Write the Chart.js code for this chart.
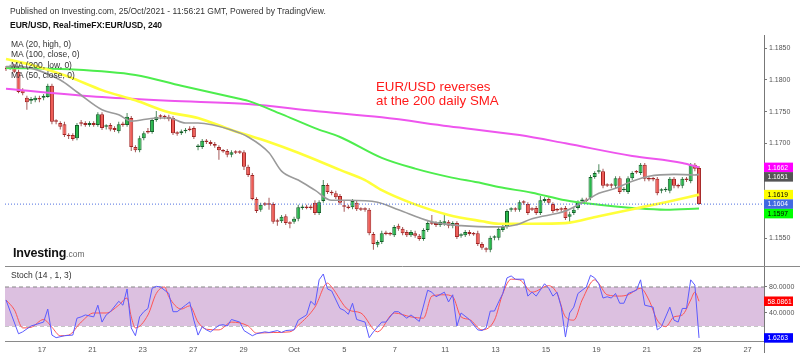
<!DOCTYPE html>
<html><head><meta charset="utf-8">
<script src="https://cdn.jsdelivr.net/npm/chart.js@4.4.0/dist/chart.umd.min.js"></script>
<style>
html,body{margin:0;padding:0;background:#fff;}
#wrap{position:relative;width:800px;height:357px;overflow:hidden;font-family:"Liberation Sans",Arial,sans-serif;}
canvas{position:absolute;left:0;}
#c1{top:0;} #c2{top:266px;}
.t{position:absolute;white-space:nowrap;color:#222;font-size:8.5px;line-height:10px;}
</style></head>
<body><div id="wrap">
<canvas id="c1" width="800" height="266"></canvas>
<canvas id="c2" width="800" height="91"></canvas>
<div class="t" style="left:10px;top:6px;color:#333">Published on Investing.com, 25/Oct/2021 - 11:56:21 GMT, Powered by TradingView.</div>
<div class="t" style="left:10px;top:20px;font-weight:bold;color:#111">EUR/USD, Real-timeFX:EUR/USD, 240</div>
<div class="t" style="left:11px;top:38.6px;line-height:10.6px;color:#333">MA (20, high, 0)<br>MA (100, close, 0)<br>MA (200, low, 0)<br>MA (50, close, 0)</div>
<div class="t" style="left:376px;top:80px;font-size:13.3px;line-height:14px;color:#ff1a1a">EUR/USD reverses<br>at the 200 daily SMA</div>
<div class="t" style="left:13px;top:246.5px;font-size:12.5px;line-height:13px;font-weight:bold;color:#111;letter-spacing:-0.2px">Investing<span style="font-weight:normal;font-size:8.5px;color:#666;letter-spacing:0">.com</span></div>
<div class="t" style="left:11px;top:270.3px;color:#333">Stoch (14 , 1, 3)</div>
</div>
<script>
// ---- 4H candles, EUR/USD ----
const opens = [
1.1819,1.1817,1.1822,1.1813,1.1784,1.1772,1.1767,1.1768,1.1770,1.1772,
1.1773,1.1791,1.1735,1.1732,1.1730,1.1712,1.1713,1.1708,1.1732,1.1732,
1.1729,1.1732,1.1729,1.1746,1.1726,1.1729,1.1724,1.1719,1.1730,1.1729,
1.1740,1.1694,1.1689,1.1708,1.1718,1.1718,1.1737,1.1743,1.1742,1.1742,
1.1740,1.1716,1.1716,1.1719,1.1722,1.1724,1.1694,1.1694,1.1704,1.1702,
1.1699,1.1694,1.1688,1.1688,1.1682,1.1686,1.1686,1.1686,1.1663,1.1650,
1.1612,1.1595,1.1604,1.1604,1.1604,1.1577,1.1577,1.1585,1.1574,1.1576,
1.1581,1.1598,1.1599,1.1599,1.1606,1.1590,1.1609,1.1634,1.1623,1.1621,
1.1617,1.1601,1.1599,1.1599,1.1606,1.1596,1.1596,1.1595,1.1557,1.1540,
1.1544,1.1558,1.1557,1.1555,1.1570,1.1565,1.1560,1.1555,1.1558,1.1554,
1.1549,1.1563,1.1574,1.1574,1.1571,1.1573,1.1576,1.1570,1.1574,1.1554,
1.1555,1.1560,1.1557,1.1558,1.1541,1.1533,1.1532,1.1551,1.1551,1.1563,
1.1568,1.1595,1.1596,1.1595,1.1607,1.1604,1.1596,1.1598,1.1590,1.1609,
1.1612,1.1604,1.1595,1.1596,1.1598,1.1584,1.1590,1.1598,1.1609,1.1610,
1.1614,1.1647,1.1655,1.1656,1.1634,1.1634,1.1633,1.1645,1.1626,1.1623,
1.1645,1.1655,1.1653,1.1666,1.1644,1.1644,1.1644,1.1625,1.1626,1.1625,
1.1644,1.1633,1.1633,1.1644,1.1640,1.1666,1.1661];
const highs = [
1.1822,1.1824,1.1825,1.1816,1.1787,1.1775,1.1773,1.1775,1.1775,1.1778,
1.1794,1.1794,1.1738,1.1735,1.1734,1.1716,1.1716,1.1732,1.1737,1.1735,
1.1735,1.1735,1.1749,1.1749,1.1730,1.1732,1.1727,1.1734,1.1734,1.1748,
1.1743,1.1697,1.1712,1.1719,1.1724,1.1740,1.1751,1.1746,1.1745,1.1745,
1.1743,1.1719,1.1722,1.1724,1.1727,1.1727,1.1699,1.1707,1.1707,1.1705,
1.1702,1.1697,1.1691,1.1691,1.1689,1.1689,1.1689,1.1689,1.1666,1.1653,
1.1615,1.1606,1.1607,1.1614,1.1607,1.1581,1.1587,1.1588,1.1577,1.1584,
1.1603,1.1603,1.1603,1.1603,1.1610,1.1610,1.1642,1.1637,1.1626,1.1625,
1.1620,1.1610,1.1603,1.1612,1.1609,1.1599,1.1599,1.1598,1.1560,1.1547,
1.1562,1.1562,1.1560,1.1571,1.1573,1.1568,1.1563,1.1563,1.1562,1.1557,
1.1566,1.1577,1.1587,1.1577,1.1579,1.1590,1.1579,1.1577,1.1577,1.1558,
1.1563,1.1563,1.1560,1.1562,1.1544,1.1536,1.1554,1.1555,1.1568,1.1571,
1.1596,1.1599,1.1599,1.1610,1.1610,1.1607,1.1599,1.1601,1.1617,1.1615,
1.1615,1.1607,1.1598,1.1599,1.1601,1.1592,1.1598,1.1610,1.1614,1.1614,
1.1650,1.1656,1.1667,1.1660,1.1637,1.1637,1.1648,1.1648,1.1631,1.1648,
1.1656,1.1658,1.1669,1.1669,1.1647,1.1647,1.1647,1.1629,1.1631,1.1647,
1.1647,1.1636,1.1647,1.1647,1.1669,1.1669,1.1664];
const lows = [
1.1814,1.1816,1.1811,1.1779,1.1776,1.1753,1.1762,1.1765,1.1765,1.1768,
1.1772,1.1730,1.1730,1.1722,1.1710,1.1707,1.1704,1.1705,1.1727,1.1726,
1.1726,1.1726,1.1726,1.1721,1.1722,1.1719,1.1718,1.1716,1.1726,1.1726,
1.1688,1.1686,1.1686,1.1705,1.1715,1.1715,1.1734,1.1738,1.1738,1.1735,
1.1713,1.1712,1.1713,1.1716,1.1719,1.1707,1.1689,1.1691,1.1699,1.1696,
1.1693,1.1674,1.1685,1.1678,1.1678,1.1683,1.1683,1.1658,1.1647,1.1610,
1.1590,1.1592,1.1601,1.1595,1.1573,1.1570,1.1574,1.1571,1.1566,1.1573,
1.1577,1.1595,1.1596,1.1595,1.1587,1.1587,1.1606,1.1620,1.1618,1.1612,
1.1603,1.1592,1.1596,1.1596,1.1593,1.1593,1.1592,1.1555,1.1532,1.1536,
1.1541,1.1555,1.1554,1.1552,1.1562,1.1555,1.1552,1.1552,1.1551,1.1546,
1.1546,1.1560,1.1571,1.1568,1.1568,1.1570,1.1566,1.1566,1.1549,1.1551,
1.1552,1.1554,1.1554,1.1538,1.1532,1.1528,1.1528,1.1547,1.1547,1.1560,
1.1565,1.1592,1.1592,1.1592,1.1603,1.1587,1.1593,1.1587,1.1587,1.1606,
1.1603,1.1590,1.1592,1.1592,1.1579,1.1573,1.1587,1.1595,1.1606,1.1607,
1.1610,1.1644,1.1652,1.1629,1.1631,1.1629,1.1629,1.1620,1.1623,1.1620,
1.1642,1.1652,1.1650,1.1640,1.1640,1.1640,1.1618,1.1621,1.1623,1.1621,
1.1629,1.1629,1.1629,1.1639,1.1637,1.1656,1.1603];
const closes = [
1.1817,1.1821,1.1813,1.1781,1.1779,1.1765,1.1770,1.1772,1.1769,1.1775,
1.1791,1.1734,1.1734,1.1726,1.1713,1.1711,1.1707,1.1729,1.1731,1.1729,
1.1732,1.1729,1.1746,1.1724,1.1727,1.1722,1.1721,1.1730,1.1729,1.1742,
1.1694,1.1689,1.1708,1.1716,1.1717,1.1737,1.1742,1.1742,1.1741,1.1738,
1.1716,1.1715,1.1719,1.1721,1.1721,1.1710,1.1696,1.1704,1.1702,1.1699,
1.1696,1.1689,1.1687,1.1682,1.1686,1.1685,1.1685,1.1663,1.1650,1.1612,
1.1593,1.1603,1.1603,1.1603,1.1576,1.1576,1.1584,1.1574,1.1573,1.1581,
1.1599,1.1599,1.1598,1.1598,1.1590,1.1607,1.1634,1.1623,1.1621,1.1615,
1.1606,1.1600,1.1598,1.1609,1.1596,1.1595,1.1595,1.1558,1.1541,1.1544,
1.1558,1.1557,1.1556,1.1568,1.1565,1.1558,1.1555,1.1560,1.1554,1.1549,
1.1563,1.1574,1.1573,1.1571,1.1576,1.1577,1.1570,1.1574,1.1552,1.1555,
1.1560,1.1557,1.1556,1.1541,1.1535,1.1532,1.1551,1.1552,1.1565,1.1568,
1.1593,1.1596,1.1595,1.1607,1.1606,1.1590,1.1595,1.1590,1.1610,1.1612,
1.1606,1.1593,1.1594,1.1595,1.1582,1.1588,1.1595,1.1607,1.1610,1.1609,
1.1647,1.1653,1.1656,1.1633,1.1633,1.1633,1.1645,1.1623,1.1628,1.1645,
1.1653,1.1654,1.1666,1.1644,1.1643,1.1643,1.1621,1.1626,1.1628,1.1644,
1.1633,1.1632,1.1644,1.1642,1.1666,1.1660,1.1604];

// ---- moving averages (candle index, value) ----
const ma20HighIdx = [0,3,13,17,23,27,30,36,39,43,46,54,58,63,66,70,74,78,82,89,94,102,109,118,122,126,134,139,142,146,150,154,160,165,166];
const ma20HighVal = [1.1821,1.1821,1.1800,1.1781,1.1753,1.1745,1.1735,1.1740,1.1740,1.1732,1.1732,1.1721,1.1710,1.1685,1.1656,1.1642,1.1626,1.1610,1.1610,1.1607,1.1595,1.1576,1.1570,1.1568,1.1571,1.1581,1.1593,1.1610,1.1621,1.1629,1.1640,1.1648,1.1651,1.1650,1.1651];
const ma100CloseIdx = [0,6,15,23,31,39,46,54,63,70,80,86,90,97,106,114,118,126,134,142,150,158,166];
const ma100CloseVal = [1.1833,1.1824,1.1805,1.1784,1.1768,1.1749,1.1740,1.1721,1.1702,1.1685,1.1658,1.1642,1.1626,1.1606,1.1587,1.1577,1.1573,1.1573,1.1574,1.1585,1.1596,1.1607,1.1619];
const ma200LowIdx = [0,15,31,42,54,58,66,74,80,90,98,106,114,118,126,134,142,150,158,166];
const ma200LowVal = [1.1819,1.1817,1.1808,1.1791,1.1773,1.1767,1.1746,1.1724,1.1710,1.1677,1.1660,1.1647,1.1637,1.1631,1.1622,1.1610,1.1603,1.1598,1.1595,1.1597];
const ma50CloseIdx = [0,23,39,58,74,90,106,123,134,150,162,166];
const ma50CloseVal = [1.1786,1.1773,1.1767,1.1762,1.1751,1.1741,1.1727,1.1713,1.1700,1.1680,1.1669,1.1662];

// ---- Stochastic (14,1,3) ----
const stochKIdx = [0,3,4,6,9,10,11,12,14,16,17,18,19,21,22,23,24,25,27,28,29,30,31,32,33,34,35,36,37,39,40,41,42,43,44,45,46,47,48,49,51,52,53,54,56,57,59,60,62,63,65,66,67,69,70,72,73,74,75,76,77,78,80,81,82,83,84,86,87,88,90,91,93,94,96,97,99,101,102,103,105,106,107,108,109,111,113,114,115,116,117,118,119,120,121,122,124,125,126,127,129,130,131,132,133,134,135,136,137,138,139,140,141,142,143,144,145,146,147,148,149,151,152,153,155,156,157,159,160,161,162,163,164,165,166];
const stochKVal = [60,8,11,20,26,46,6,2,5,6,32,34,37,34,52,26,37,42,58,52,77,17,5,34,42,47,78,81,80,70,42,42,47,52,57,29,6,19,14,11,21,22,20,30,26,13,5,8,11,10,13,10,13,14,29,37,58,52,91,100,77,74,47,44,38,55,30,26,2,11,26,26,42,42,32,37,27,75,72,65,72,57,68,20,40,30,14,13,17,43,43,57,70,94,97,92,92,66,72,66,85,78,66,72,49,3,40,49,70,75,80,98,94,85,63,65,63,70,55,55,70,75,91,52,49,14,19,49,29,26,47,47,91,83,1.6263];
const stochDIdx = [0,2,4,6,9,11,13,15,18,21,24,27,29,30,31,34,36,38,39,42,44,46,48,51,54,58,60,64,68,70,74,77,78,82,85,89,93,97,100,102,105,107,109,111,114,117,119,121,123,126,130,132,134,136,138,141,142,144,147,149,152,154,156,158,160,162,164,165,166];
const stochDVal = [60,45,17,18,30,18,5,6,26,40,40,52,63,34,17,37,70,80,65,46,51,26,15,14,26,20,9,10,11,21,49,86,80,45,40,11,40,34,32,66,68,65,34,30,14,29,70,92,91,72,82,70,34,29,60,91,85,68,66,68,78,60,29,19,34,37,60,72,58.0861];
const stochBand = [20, 80];
const stochTicks = [40, 80];

// ---- axis labels ----
const dayLabels = ['17','21','23','27','29','Oct','5','7','11','13','15','19','21','25','27'];
const dayNumber = [0,2,4,6,8,10,12,14,16,18,20,22,24,26,28]; // trading days after 17 Sep
const priceTicks = [1.1550, 1.1700, 1.1750, 1.1800, 1.1850];

// ---- layout ----
const X_MIN = -0.24, X_MAX = 181.56, DAY0 = 8.62, PER_DAY = 6.036;
const Y_MIN = 1.15063, Y_MAX = 1.18710, S_MIN = -3.1, S_MAX = 112.3;
const FONT = '"Liberation Sans", Arial, sans-serif';
const UP = '#27b94b', UP_B = '#14602a', DN = '#ef5b55', DN_B = '#a32424';

const pts = (xs, ys) => xs.map((x, i) => ({x, y: ys[i]}));
const isUp = i => closes[i] >= opens[i];
const last = a => a[a.length - 1];
const noPad = s => { s.paddingTop = 0; s.paddingBottom = 0; s.paddingLeft = 0; s.paddingRight = 0; };

function boxes(getItems) {
  return { id: 'valboxes', afterDraw(chart) {
    const {ctx, chartArea, scales} = chart;
    const items = getItems().map(it => ({...it, py: scales.y.getPixelForValue(it.v)})).sort((a, b) => a.py - b.py);
    const h = 9.5; let prev = -1e9;
    ctx.save(); ctx.font = '6.7px ' + FONT; ctx.textBaseline = 'middle';
    for (const it of items) {
      const cy = Math.max(it.py, prev + h); prev = cy;
      ctx.fillStyle = it.bg; ctx.fillRect(chartArea.right, cy - h / 2, 29, h);
      ctx.fillStyle = it.fg; ctx.fillText(it.text, chartArea.right + 3.5, cy + 0.5);
    }
    ctx.restore();
  }};
}
const yAxisCommon = {
  position: 'right',
  afterFit: s => { s.width = 36; noPad(s); },
  ticks: { color: '#555', font: { size: 7, family: FONT }, padding: 2, callback: v => Number(v).toFixed(4) },
  grid: { drawOnChartArea: false, drawTicks: true, tickLength: 3, color: '#777' },
  border: { display: true, color: '#777' }
};
const lineDs = (label, data, color, width, extra) => Object.assign({
  type: 'line', label, data, borderColor: color, borderWidth: width, pointRadius: 0,
  cubicInterpolationMode: 'monotone', fill: false
}, extra || {});

new Chart(document.getElementById('c1'), {
  type: 'bar',
  data: { datasets: [
    lineDs('MA (20, high, 0)', pts(ma20HighIdx, ma20HighVal), '#9a9a9a', 1.6, {order: 1}),
    lineDs('MA (100, close, 0)', pts(ma100CloseIdx, ma100CloseVal), '#ffff3a', 2.6, {order: 1}),
    lineDs('MA (200, low, 0)', pts(ma200LowIdx, ma200LowVal), '#4ded4d', 2, {order: 1}),
    lineDs('MA (50, close, 0)', pts(ma50CloseIdx, ma50CloseVal), '#ee55ee', 2, {order: 1}),
    lineDs('last', [{x: X_MIN, y: last(closes)}, {x: X_MAX, y: last(closes)}], '#4f6fe0', 1, {borderDash: [1, 2], order: 0, cubicInterpolationMode: 'default'}),
    { label: 'wick', data: opens.map((o, i) => ({x: i, y: [lows[i], highs[i]]})),
      backgroundColor: c => isUp(c.dataIndex) ? '#4f8a5e' : '#a45858',
      barThickness: 1, grouped: false, order: 3, borderWidth: 0, inflateAmount: 0 },
    { label: 'body', data: opens.map((o, i) => ({x: i, y: [o, closes[i]]})),
      backgroundColor: c => isUp(c.dataIndex) ? UP : DN,
      borderColor: c => isUp(c.dataIndex) ? UP_B : DN_B,
      borderWidth: 1, borderSkipped: false, barThickness: 4, minBarLength: 1.5,
      grouped: false, order: 2, inflateAmount: 0 }
  ]},
  options: {
    animation: false, responsive: false, maintainAspectRatio: false,
    layout: { autoPadding: false, padding: { left: 5, top: 35, right: 0, bottom: 0 } },
    plugins: { legend: { display: false }, tooltip: { enabled: false } },
    scales: {
      x: { type: 'linear', min: X_MIN, max: X_MAX, display: false, offset: false },
      y: Object.assign({}, yAxisCommon, { min: Y_MIN, max: Y_MAX, beginAtZero: false,
        afterBuildTicks: s => { s.ticks = priceTicks.map(v => ({value: v})); } })
    }
  },
  plugins: [boxes(() => [
    {v: last(ma50CloseVal), text: last(ma50CloseVal).toFixed(4), bg: '#ff00ff', fg: '#fff'},
    {v: last(ma20HighVal), text: last(ma20HighVal).toFixed(4), bg: '#555', fg: '#fff'},
    {v: last(ma100CloseVal), text: last(ma100CloseVal).toFixed(4), bg: '#ffff00', fg: '#000'},
    {v: last(closes), text: last(closes).toFixed(4), bg: '#4169e1', fg: '#fff'},
    {v: last(ma200LowVal), text: last(ma200LowVal).toFixed(4), bg: '#00ff00', fg: '#000'}
  ])]
});

const sepLine = { id: 'sep', afterDraw(chart) {
  const {ctx, chartArea} = chart;
  ctx.save(); ctx.strokeStyle = '#8a8a8a'; ctx.lineWidth = 1;
  ctx.beginPath(); ctx.moveTo(chartArea.left, chartArea.top + 0.5); ctx.lineTo(800, chartArea.top + 0.5); ctx.stroke();
  ctx.strokeStyle = '#777';
  ctx.beginPath(); ctx.moveTo(chartArea.right + 0.5, chartArea.bottom); ctx.lineTo(chartArea.right + 0.5, chartArea.bottom + 12); ctx.stroke();
  ctx.restore();
}};

new Chart(document.getElementById('c2'), {
  type: 'line',
  data: { datasets: [
    lineDs('%K', pts(stochKIdx, stochKVal), '#5b5bff', 1, {order: 1, cubicInterpolationMode: 'default', tension: 0}),
    lineDs('%D', pts(stochDIdx, stochDVal), '#ff5454', 1, {order: 2, cubicInterpolationMode: 'monotone'}),
    lineDs('upper', [{x: X_MIN, y: stochBand[1]}, {x: X_MAX, y: stochBand[1]}], '#888', 1, {borderDash: [4, 3], fill: '+1', backgroundColor: '#dcc0e0', order: 5, cubicInterpolationMode: 'default'}),
    lineDs('lower', [{x: X_MIN, y: stochBand[0]}, {x: X_MAX, y: stochBand[0]}], '#888', 1, {borderDash: [4, 3], order: 6, cubicInterpolationMode: 'default'})
  ]},
  options: {
    animation: false, responsive: false, maintainAspectRatio: false,
    layout: { autoPadding: false, padding: { left: 5, top: 0, right: 0, bottom: 0 } },
    plugins: { legend: { display: false }, tooltip: { enabled: false } },
    scales: {
      x: { type: 'linear', min: X_MIN, max: X_MAX, offset: false,
        afterBuildTicks: s => { s.ticks = dayNumber.map(d => ({value: DAY0 + PER_DAY * d})); },
        afterFit: s => { s.height = 16; noPad(s); },
        ticks: { autoSkip: false, maxRotation: 0, padding: 4, color: '#555', font: { size: 7.5, family: FONT },
          callback: (v, i) => dayLabels[i] },
        grid: { drawOnChartArea: false, drawTicks: false },
        border: { display: true, color: '#8a8a8a' } },
      y: Object.assign({}, yAxisCommon, { min: S_MIN, max: S_MAX,
        afterBuildTicks: s => { s.ticks = stochTicks.map(v => ({value: v})); } })
    }
  },
  plugins: [sepLine, boxes(() => [
    {v: last(stochDVal), text: last(stochDVal).toFixed(4), bg: '#ff0000', fg: '#fff'},
    {v: last(stochKVal), text: last(stochKVal).toFixed(4), bg: '#0000ff', fg: '#fff'}
  ])]
});
</script>
</body></html>
